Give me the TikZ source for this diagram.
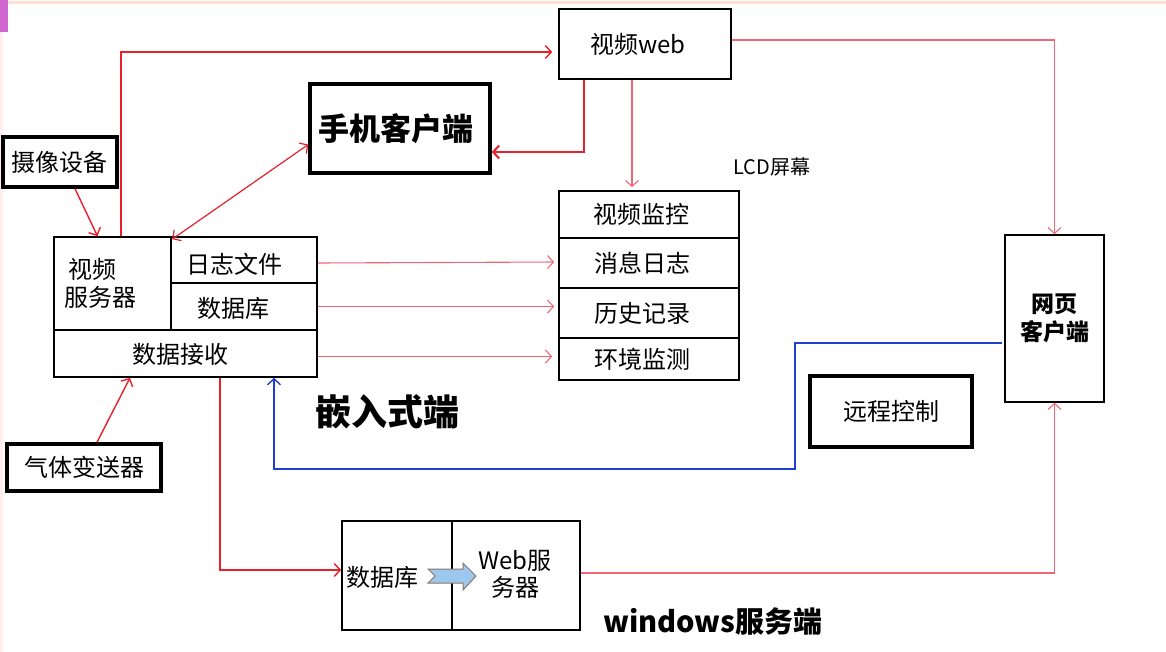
\documentclass[tikz,border=0pt]{standalone}
\usepackage{fontspec}
\setmainfont{Noto Sans CJK SC}
\usetikzlibrary{arrows,arrows.meta,positioning,calc}
\definecolor{lnred}{HTML}{E8202C}
\definecolor{lnpink}{HTML}{F06878}
\definecolor{lnblue}{HTML}{1F3FD0}
\definecolor{arrfill}{HTML}{9DC8EE}
\definecolor{arredge}{HTML}{8C7468}
\tikzset{
  cell/.style={draw, line width=1.6pt, inner sep=0pt, align=center, font=\fontsize{24}{28}\selectfont},
  bigcell/.style={cell, line width=3.5pt},
  redarr/.style={draw=lnred, line width=1.4pt, ->},
  pinkarr/.style={draw=lnpink, line width=1.1pt, ->},
  title/.style={font=\fontsize{36}{40}\selectfont\bfseries}
}
\begin{document}
\begin{tikzpicture}[x=1pt, y=-1pt, >={Straight Barb[length=6pt,width=13pt]}]
\useasboundingbox (0,0) rectangle (1166,652);
\fill[white] (0,0) rectangle (1166,652);
\fill[orange!25!pink!40] (0,1.5) rectangle (1166,4.5);
\fill[violet!60!magenta!60] (0,0) rectangle (8,32);
\fill[pink!25] (0,32) rectangle (2.5,652);

% embedded side
\node[cell, minimum width=117pt, minimum height=93pt] (vserver) at (112.5,283.5) {};
\node[cell, minimum width=146pt, minimum height=46pt] (logfile) at (244,260) {};
\node[cell, minimum width=146pt, minimum height=47pt] (dbase) at (244,306.5) {};
\node[cell, minimum width=263pt, minimum height=47pt] (recv) at (185.5,353.5) {};
\node[cell, draw=none, align=left] (vservertxt) at (100,283) {\,视频\\服务器};
\node[cell, draw=none] (logfiletxt) at (234,264) {日志文件};
\node[cell, draw=none] (dbasetxt) at (233,308) {数据库};
\node[cell, draw=none] (recvtxt) at (180,354) {数据接收};

\node[bigcell, minimum width=114pt, minimum height=50pt] (camera) at (60,162) {摄像设备};
\node[bigcell, minimum width=154pt, minimum height=47pt] (gas) at (84,467.5) {气体变送器};
\node[bigcell, minimum width=180pt, minimum height=89pt, font=\fontsize{31}{36}\selectfont\bfseries] (phone) at (400,128.5) {手机客户端\hspace*{8pt}};
\node[cell, minimum width=172pt, minimum height=70pt] (vweb) at (645,44) {视频web\hspace*{14pt}};

% LCD screen
\node[cell, minimum width=180pt, minimum height=47pt] (vmon) at (649,214.5) {视频监控\hspace*{16pt}};
\node[cell, minimum width=180pt, minimum height=50pt] (msglog) at (649,263) {消息日志\hspace*{14pt}};
\node[cell, minimum width=180pt, minimum height=50pt] (hist) at (649,313) {历史记录\hspace*{14pt}};
\node[cell, minimum width=180pt, minimum height=42pt] (envmon) at (649,359) {环境监测\hspace*{14pt}};
\node[font=\fontsize{20}{24}\selectfont] (lcd) at (772,167) {LCD屏幕};

\node[cell, minimum width=99pt, minimum height=167pt, font=\fontsize{23}{28}\selectfont\bfseries] (webcli) at (1054.5,318.5) {网页\\客户端};
\node[bigcell, minimum width=162pt, minimum height=71pt] (remote) at (891,411.5) {远程控制};

% windows side
\node[cell, minimum width=110pt, minimum height=109pt] (bdb) at (397,575.5) {};
\node[cell, minimum width=128pt, minimum height=109pt] (bweb) at (516,575.5) {};
\node[font=\fontsize{24}{28}\selectfont] (bdbtxt) at (382,577) {数据库};
\node[font=\fontsize{24}{27}\selectfont, align=center] (bwebtxt) at (515,574) {Web服\\务器};
\draw[fill=arrfill, draw=arredge, line width=1pt] (428,569) -- (463,569) -- (463,563) -- (476,576)
  -- (463,590) -- (463,583) -- (428,583) -- (435,576) -- cycle;

\node[title] (emb) at (387,412) {嵌入式端};
\node[title, font=\fontsize{29}{34}\selectfont\bfseries] (win) at (713,622) {windows服务端};

% connectors
\draw[redarr] ([xshift=15pt]camera.south) -- ([xshift=-15pt]vserver.north);
\draw[redarr] ([xshift=8.5pt]vserver.north) |- ([yshift=-8pt,xshift=-6pt]vweb.west);
\draw[draw=lnred, line width=1.2pt, {Straight Barb[length=6pt,width=13pt]}-{Straight Barb[length=6pt,width=13pt]}] ([xshift=2pt,yshift=-3pt]logfile.north west) -- ([yshift=-16pt]phone.west);
\draw[redarr, line width=2pt] ([xshift=26pt]vweb.south west) |- ([yshift=-23.5pt]phone.east);
\draw[pinkarr] ([xshift=-13pt]vweb.south) -- ([xshift=-13pt,yshift=3pt]vweb.south |- vmon.north);
\draw[pinkarr] ([yshift=4pt]vweb.east) -| (webcli.north);
\draw[pinkarr, shorten >=4pt] ([yshift=-3pt]logfile.east) -- ([yshift=-2pt]logfile.east -| msglog.west);
\draw[pinkarr, shorten >=4pt] (dbase.east) -- (dbase.east -| hist.west);
\draw[pinkarr, shorten >=6pt] ([yshift=-3pt]recv.east) -- ([yshift=-3pt]recv.east -| envmon.west);
\draw[redarr] ([xshift=13pt]gas.north) -- ([xshift=-55.5pt]recv.south);
\draw[redarr] ([xshift=34.5pt]recv.south) |- ([yshift=5.5pt]bdb.west);
\draw[pinkarr] ([yshift=2.5pt]bweb.east) -| (webcli.south);
\coordinate (bluebend) at (795,469);
\draw[draw=lnblue, line width=1.4pt, ->] ([yshift=-24.5pt,xshift=-2pt]webcli.west) -| (bluebend) -| ([xshift=88.5pt]recv.south);
\end{tikzpicture}
\end{document}
